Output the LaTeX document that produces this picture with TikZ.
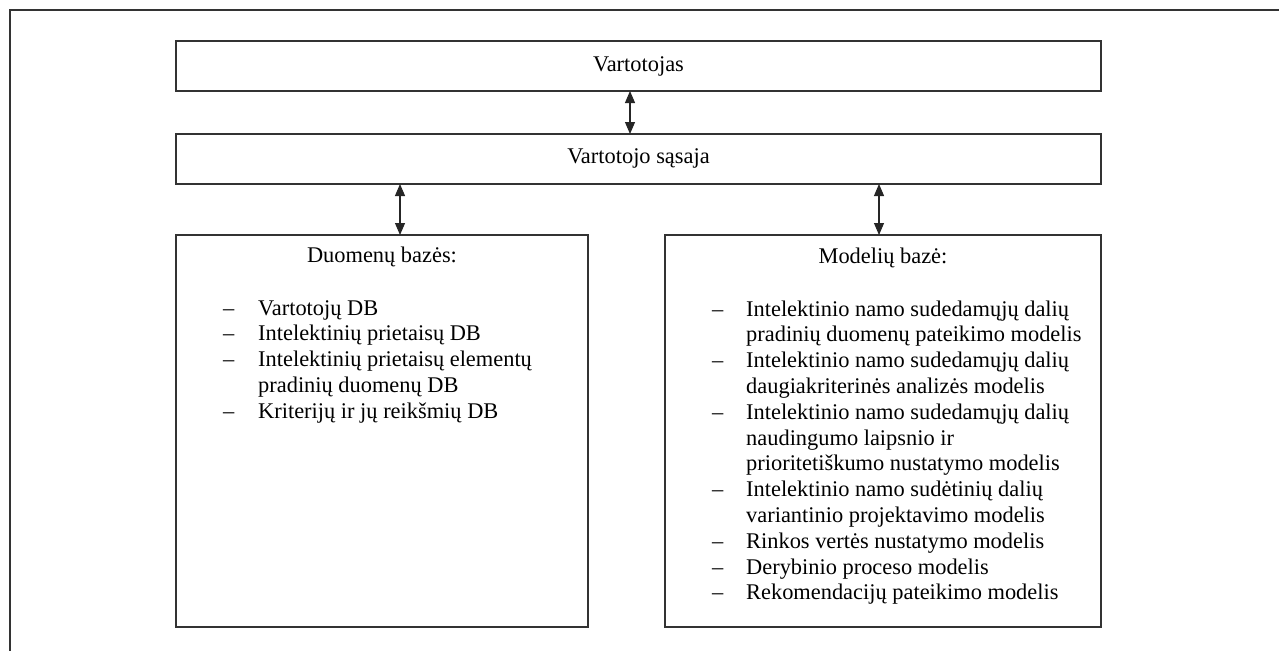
\documentclass[tikz,border=0pt]{standalone}
\usepackage{fontspec}
\setmainfont{Liberation Serif}
\usetikzlibrary{arrows.meta}
\begin{document}
\begin{tikzpicture}[x=1pt,y=-1pt,
  frame/.style={line width=1.3pt,draw=black!80},
  box/.style={draw=black!80,line width=1.3pt,inner sep=0pt,outer sep=0pt},
  link/.style={line width=1.1pt,draw=black!85,{Triangle[length=12pt,width=10pt]}-{Triangle[length=12pt,width=10pt]}},
  txt/.style={font=\fontsize{22.4}{25.8}\selectfont,inner sep=0pt},
]
\useasboundingbox (0,0) rectangle (1279,651);
% outer frame (only top and left visible)
\draw[frame] (1279,10) -- (10,10) -- (10,651);
% boxes
\node[box,minimum width=925pt,minimum height=50pt] (user) at (638.5,66) {};
\node[box,minimum width=925pt,minimum height=50pt] (ui) at (638.5,159) {};
\node[box,minimum width=412pt,minimum height=392pt] (db) at (382,431) {};
\node[box,minimum width=436pt,minimum height=392pt] (mb) at (883,431) {};
% texts
\node[txt,anchor=base] (usert) at (638.5,71) {Vartotojas};
\node[txt,anchor=base] (uit) at (638.5,163) {Vartotojo sąsaja};
\node[txt,anchor=base] (dbt) at (382,262) {Duomenų bazės:};
\node[txt,anchor=base] (mbt) at (883,263) {Modelių bazė:};
\node[txt,anchor=base west] (dbl) at (223,315) {\begin{tabular}[t]{@{}p{35pt}@{}l@{}}
– & Vartotojų DB\\
– & Intelektinių prietaisų DB\\
– & Intelektinių prietaisų elementų\\
  & pradinių duomenų DB\\
– & Kriterijų ir jų reikšmių DB
\end{tabular}};
\node[txt,anchor=base west] (mbl) at (712,316) {\begin{tabular}[t]{@{}p{34pt}@{}l@{}}
– & Intelektinio namo sudedamųjų dalių\\
  & pradinių duomenų pateikimo modelis\\
– & Intelektinio namo sudedamųjų dalių\\
  & daugiakriterinės analizės modelis\\
– & Intelektinio namo sudedamųjų dalių\\
  & naudingumo laipsnio ir\\
  & prioritetiškumo nustatymo modelis\\
– & Intelektinio namo sudėtinių dalių\\
  & variantinio projektavimo modelis\\
– & Rinkos vertės nustatymo modelis\\
– & Derybinio proceso modelis\\
– & Rekomendacijų pateikimo modelis
\end{tabular}};
% connectors
\draw[link] ([xshift=-8.5pt]user.south) -- ([xshift=-8.5pt]ui.north);
\draw[link] ([xshift=-238.5pt]ui.south) -- ([xshift=18pt]db.north);
\draw[link] ([xshift=240.5pt]ui.south) -- ([xshift=-4pt]mb.north);
\end{tikzpicture}
\end{document}
